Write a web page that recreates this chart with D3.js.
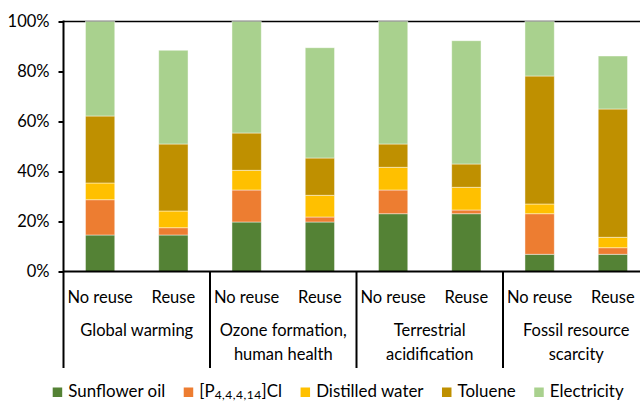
<!DOCTYPE html>
<html><head><meta charset="utf-8">
<script src="https://cdn.jsdelivr.net/npm/d3@7"></script>
<style>
body{margin:0;background:#fff;}
svg text{font-family:Lato,"Liberation Sans",sans-serif;fill:#000;}
</style></head>
<body><svg id="c" width="640" height="401"></svg>
<script>
const bars = ["No reuse","Reuse","No reuse","Reuse","No reuse","Reuse","No reuse","Reuse"];
const groups = [["Global warming"],["Ozone formation,","human health"],["Terrestrial","acidification"],["Fossil resource","scarcity"]];
const seriesNames = ["Sunflower oil","[P4,4,4,14]Cl","Distilled water","Toluene","Electricity"];
const sunflower = [14.6,14.6,19.8,19.8,23.1,23.1,6.9,6.9];
const phosphonium = [14.1,2.9,12.8,2.0,9.5,1.5,16.2,2.6];
const water = [6.7,6.7,7.9,8.7,9.1,9.1,3.9,4.2];
const toluene = [26.8,26.8,14.9,14.9,9.3,9.3,51.2,51.3];
const electricity = [37.8,37.5,44.6,44.1,49.0,49.3,21.8,21.2];
const yTicks = [0,20,40,60,80,100];
const colors = ["#548235","#ED7D31","#FFC000","#BF9000","#A9D18E"];

const svg = d3.select("#c");
const x0 = 63.5, step = 73.25;
const idx = d3.range(bars.length);
const x = d3.scaleBand().domain(idx).range([x0, x0 + step*bars.length]).paddingInner(0.6).paddingOuter(0.3);
const y = d3.scaleLinear().domain([0,100]).range([271.5, 21.5]);

const seriesData = [sunflower, phosphonium, water, toluene, electricity];
const table = idx.map(i => { const o = {i}; seriesNames.forEach((s,k)=> o[s]=seriesData[k][i]); return o; });
const stacked = d3.stack().keys(seriesNames)(table);

svg.append("line").attr("x1", x0).attr("x2", x0 + step*bars.length).attr("y1", y(100)).attr("y2", y(100))
  .attr("stroke","#000").attr("stroke-width",1.5);

svg.append("g").selectAll("g").data(stacked).join("g")
  .attr("fill",(d,k)=>colors[k])
  .selectAll("rect").data(d=>d).join("rect")
  .attr("x", d=>x(d.data.i)).attr("width", x.bandwidth())
  .attr("y", d=>y(d[1])).attr("height", d=>y(d[0])-y(d[1]))
  .attr("stroke","#fff").attr("stroke-opacity",0.55).attr("stroke-width",0.8);

const yAxis = d3.axisLeft(y).tickValues(yTicks).tickFormat(d=>d+"%").tickSize(5).tickPadding(9);
const ga = svg.append("g").attr("transform",`translate(${x0},0)`).call(yAxis);
ga.select(".domain").remove();
ga.selectAll(".tick line").attr("stroke","#000").attr("stroke-width",2);
ga.selectAll(".tick text").attr("font-size",16.5).attr("font-family","Lato").attr("fill","#000");
svg.append("line").attr("x1",x0).attr("x2",x0).attr("y1",y(100)-1).attr("y2",368).attr("stroke","#000").attr("stroke-width",2);
svg.append("line").attr("x1",x0).attr("x2",x0+step*bars.length).attr("y1",y(0)).attr("y2",y(0)).attr("stroke","#000").attr("stroke-width",2);
d3.range(1,groups.length+1).forEach(g=>{
  const gx = x0 + g*2*step;
  svg.append("line").attr("x1",gx).attr("x2",gx).attr("y1",y(0)).attr("y2",368).attr("stroke","#000").attr("stroke-width",2);
});
svg.append("g").selectAll("text").data(idx).join("text")
  .attr("x", i=>x(i)+x.bandwidth()/2).attr("y",302.5).attr("text-anchor","middle").attr("font-size",16.5)
  .text(i=>bars[i]);
groups.forEach((lines,g)=>{
  const cx = x0 + (g*2+1)*step;
  lines.forEach((t,j)=>{
    svg.append("text").attr("x",cx).attr("y",335.5+j*24).attr("text-anchor","middle").attr("font-size",16.5).text(t);
  });
});
const leg = svg.append("g");
let lx = 52.7;
seriesNames.forEach((s,k)=>{
  leg.append("rect").attr("x",lx).attr("y",387.5).attr("width",9.5).attr("height",9.5).attr("fill",colors[k]);
  const t = leg.append("text").attr("x",lx+15.6).attr("y",397).attr("font-size",16.9);
  if (k===1) {
    t.append("tspan").text("[P");
    t.append("tspan").attr("font-size",12).attr("dy",1.5).attr("letter-spacing",0.5).text("4,4,4,14");
    t.append("tspan").attr("dy",-1.5).text("]Cl");
  } else t.text(s);
  lx += 15.6 + t.node().getComputedTextLength() + 18.5;
});
</script></body></html>
